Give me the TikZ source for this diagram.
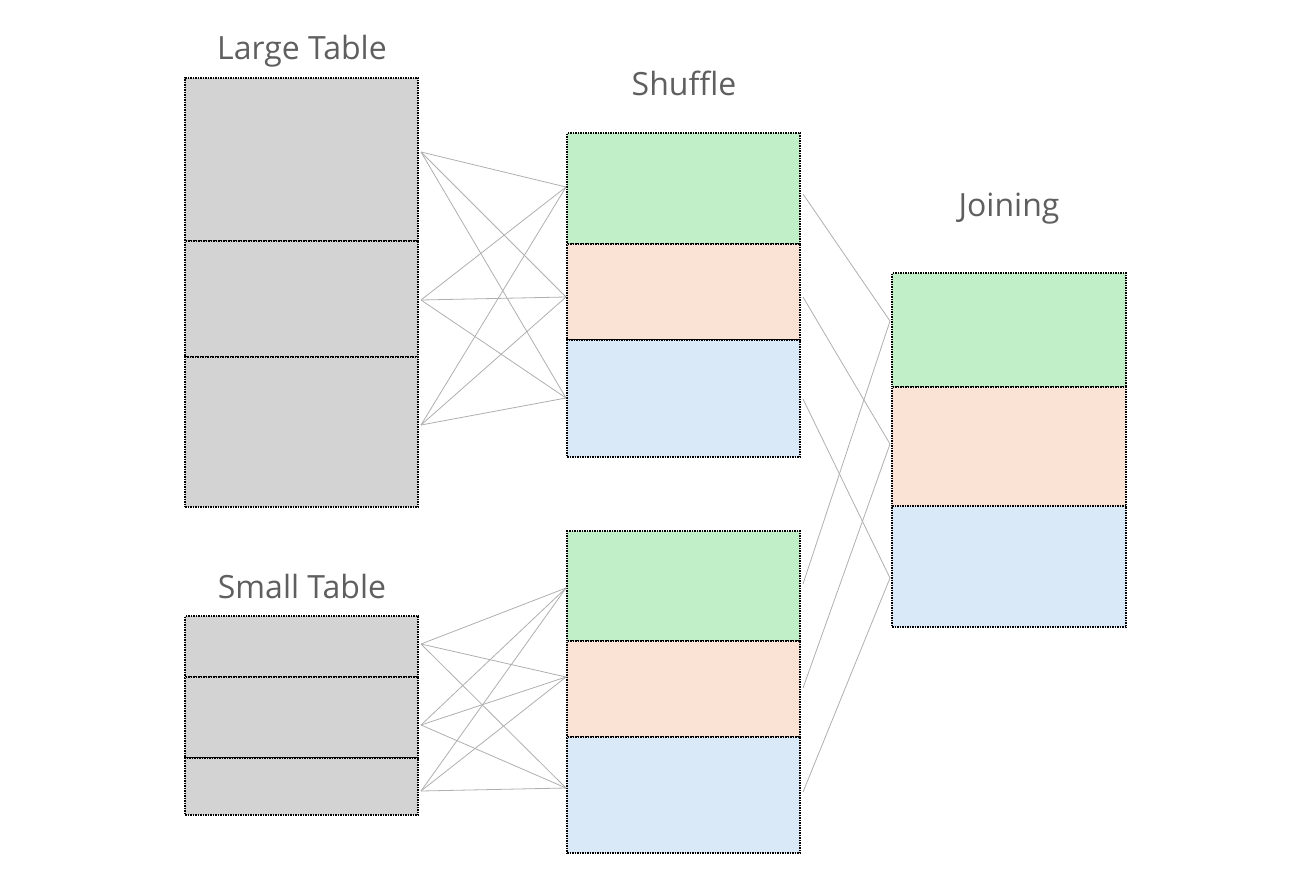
\documentclass[tikz,border=0pt]{standalone}
\usepackage{fontspec}
\setmainfont{Open Sans}
\definecolor{tgray}{RGB}{211,211,211}
\definecolor{tgreen}{RGB}{193,240,200}
\definecolor{tpeach}{RGB}{250,226,213}
\definecolor{tblue}{RGB}{218,233,248}
\definecolor{ttext}{RGB}{95,95,95}
\definecolor{tline}{RGB}{175,175,175}
\begin{document}
\begin{tikzpicture}[x=1pt,y=-1pt,
  box/.style={draw=black, line width=1.5pt, dash pattern=on 1.5pt off 1pt, inner sep=0pt, outer sep=0pt, anchor=north west},
  wbox/.style={box, minimum width=233pt},
  ttl/.style={anchor=base, text=ttext, font=\fontsize{32}{34}\selectfont},
  link/.style={draw=tline, line width=0.8pt}]
\useasboundingbox (0,0) rectangle (1306,888);
% titles
\node[ttl] (tlarge) at (302,60) {Large Table};
\node[ttl] (tshuf) at (684,96) {Shuffle};
\node[ttl] (tjoin) at (1009,216) {Joining};
\node[ttl] (tsmall) at (302,598) {Small Table};
% large table
\node[wbox, fill=tgray, minimum height=163pt] (lg1) at (185,78) {};
\node[wbox, fill=tgray, minimum height=116pt] (lg2) at (185,241) {};
\node[wbox, fill=tgray, minimum height=150pt] (lg3) at (185,357) {};
% small table
\node[wbox, fill=tgray, minimum height=61pt] (sm1) at (185,616) {};
\node[wbox, fill=tgray, minimum height=81pt] (sm2) at (185,677) {};
\node[wbox, fill=tgray, minimum height=57pt] (sm3) at (185,758) {};
% shuffle top
\node[wbox, fill=tgreen, minimum height=111pt] (st1) at (567,133) {};
\node[wbox, fill=tpeach, minimum height=96pt] (st2) at (567,244) {};
\node[wbox, fill=tblue, minimum height=117pt] (st3) at (567,340) {};
% shuffle bottom
\node[wbox, fill=tgreen, minimum height=110pt] (sb1) at (567,531) {};
\node[wbox, fill=tpeach, minimum height=96pt] (sb2) at (567,641) {};
\node[wbox, fill=tblue, minimum height=116pt] (sb3) at (567,737) {};
% joining
\node[wbox, fill=tgreen, minimum width=234pt, minimum height=114pt] (j1) at (892,273) {};
\node[wbox, fill=tpeach, minimum width=234pt, minimum height=119pt] (j2) at (892,387) {};
\node[wbox, fill=tblue, minimum width=234pt, minimum height=121pt] (j3) at (892,506) {};
% attachment points
\coordinate (la1) at (421,152); \coordinate (la2) at (421,300); \coordinate (la3) at (421,425);
\coordinate (sa1) at (566,187); \coordinate (sa2) at (566,297); \coordinate (sa3) at (566,398);
\coordinate (ma1) at (421,644); \coordinate (ma2) at (421,725); \coordinate (ma3) at (421,791);
\coordinate (ba1) at (566,588); \coordinate (ba2) at (566,677); \coordinate (ba3) at (566,788);
\coordinate (so1) at (803,194); \coordinate (so2) at (803,297); \coordinate (so3) at (803,399);
\coordinate (bo1) at (803,584); \coordinate (bo2) at (803,688); \coordinate (bo3) at (803,792);
\coordinate (ji1) at (890,321); \coordinate (ji2) at (890,444); \coordinate (ji3) at (890,578);
% links
\foreach \a in {la1,la2,la3}{\foreach \b in {sa1,sa2,sa3}{\draw[link] (\a) -- (\b);}}
\foreach \a in {ma1,ma2,ma3}{\foreach \b in {ba1,ba2,ba3}{\draw[link] (\a) -- (\b);}}
\draw[link] (so1) -- (ji1);
\draw[link] (so2) -- (ji2);
\draw[link] (so3) -- (ji3);
\draw[link] (bo1) -- (ji1);
\draw[link] (bo2) -- (ji2);
\draw[link] (bo3) -- (ji3);
\end{tikzpicture}
\end{document}
